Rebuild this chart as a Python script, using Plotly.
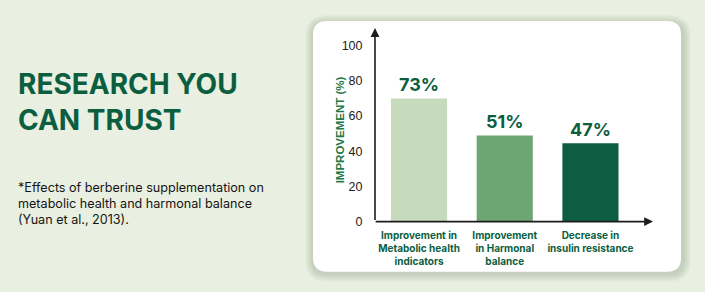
import plotly.graph_objects as go

# ---- data ----
categories = ["Improvement in<br>Metabolic health<br>indicators",
              "Improvement<br>in Harmonal<br>balance",
              "Decrease in<br>insulin resistance"]
bar_heights = [70, 49, 44.5]          # heights as drawn in the picture
value_labels = ["73%", "51%", "47%"]  # labels printed above the bars
bar_colors = ["#C6DBBB", "#6CA672", "#0C5D41"]
y_tickvals = [0, 20, 40, 60, 80, 100]
title_lines = ["RESEARCH YOU", "CAN TRUST"]
note_lines = ["*Effects of berberine supplementation on",
              "metabolic health and harmonal balance",
              "(Yuan et al., 2013)."]

W, H = 705, 292
HV = 300.0   # effective vertical extent observed in the capture
GREEN = "#0B5E3F"
BG = "#E9EFE1"


def px(x):
    return x / W


def py(y):
    return 1 - (y * HV / H) / H


def rrect(x0, y0, x1, y1, r):
    X0, X1 = px(x0), px(x1)
    Y0, Y1 = py(y0), py(y1)
    rx, ry = r / W, r / H
    return (f"M{X0+rx},{Y0} L{X1-rx},{Y0} Q{X1},{Y0} {X1},{Y0-ry} "
            f"L{X1},{Y1+ry} Q{X1},{Y1} {X1-rx},{Y1} L{X0+rx},{Y1} "
            f"Q{X0},{Y1} {X0},{Y1+ry} L{X0},{Y0-ry} Q{X0},{Y0} {X0+rx},{Y0} Z")


fig = go.Figure()
fig.add_trace(go.Bar(
    x=list(range(len(categories))), y=bar_heights,
    marker=dict(color=bar_colors, line=dict(width=0)),
    width=0.655,
    text=value_labels, textposition="outside", cliponaxis=False,
    textfont=dict(family="Inter, Open Sans, sans-serif", size=18, color=GREEN, weight="bold"),
    hoverinfo="skip",
))

shapes = []
# soft shadow
for i in range(8, 0, -1):
    shapes.append(dict(type="path", xref="paper", yref="paper",
                       path=rrect(313 - i, 21 - i + 2, 681 + i + 2, 271 + i + 2, 14 + i),
                       fillcolor="rgba(60,70,50,0.022)", line=dict(width=0), layer="below"))
shapes.append(dict(type="path", xref="paper", yref="paper",
                   path=rrect(313, 21, 681, 271, 14),
                   fillcolor="white", line=dict(width=0), layer="below"))

y0p, y1p = 221, 28
x_lo, x_hi = -0.514, 2.73
y_hi = (y0p - y1p) / 1.755

annotations = []
# axes with arrowheads (in data coordinates)
annotations.append(dict(xref="x", yref="y", x=x_lo, y=y_hi, ax=x_lo, ay=0,
                        axref="x", ayref="y", showarrow=True, arrowhead=2, arrowsize=1.1,
                        arrowwidth=1.6, arrowcolor="#1c1c1c", text=""))
annotations.append(dict(xref="x", yref="y", x=x_hi, y=0, ax=x_lo - 0.01, ay=0,
                        axref="x", ayref="y", showarrow=True, arrowhead=2, arrowsize=1.1,
                        arrowwidth=1.6, arrowcolor="#1c1c1c", text=""))
# y axis title
annotations.append(dict(xref="paper", yref="paper", x=px(340), y=py(130), text="IMPROVEMENT (%)",
                        textangle=-90, showarrow=False,
                        font=dict(family="Liberation Sans Narrow, Liberation Sans, sans-serif", size=11.5,
                                  color="#1E7A48", weight="bold")))
# heading
for i, t in enumerate(title_lines):
    annotations.append(dict(xref="paper", yref="paper", x=px(16), y=py(83.5 + 36.5 * i), text=t,
                            xanchor="left", yanchor="middle", showarrow=False,
                            font=dict(family="Inter, Open Sans, sans-serif", size=28, color=GREEN,
                                      weight="bold")))
# footnote
for i, t in enumerate(note_lines):
    annotations.append(dict(xref="paper", yref="paper", x=px(16), y=py(187 + 16 * i), text=t,
                            xanchor="left", yanchor="middle", showarrow=False,
                            font=dict(family="Inter, Open Sans, sans-serif", size=12.6, color="#151515")))

fig.update_layout(
    width=W, height=H, margin=dict(l=0, r=0, t=0, b=0),
    paper_bgcolor=BG, plot_bgcolor="rgba(0,0,0,0)",
    showlegend=False, shapes=shapes, annotations=annotations,
    xaxis=dict(domain=[px(375), px(653)], range=[x_lo, x_hi],
               tickvals=list(range(len(categories))), ticktext=categories,
               showgrid=False, zeroline=False, showline=False, ticks="outside", ticklen=4,
               tickcolor="rgba(0,0,0,0)",
               tickfont=dict(family="Inter, Open Sans, sans-serif", size=10, color=GREEN, weight="bold"),
               fixedrange=True),
    yaxis=dict(domain=[py(y0p), py(y1p)], range=[0, y_hi],
               tickvals=y_tickvals, showgrid=False, zeroline=False, showline=False,
               ticks="outside", ticklen=9, tickcolor="rgba(0,0,0,0)",
               tickfont=dict(family="Liberation Sans Narrow, Liberation Sans, sans-serif", size=12.5,
                             color="#222222"),
               fixedrange=True),
    bargap=0.3,
)
fig.write_html("out.html")
